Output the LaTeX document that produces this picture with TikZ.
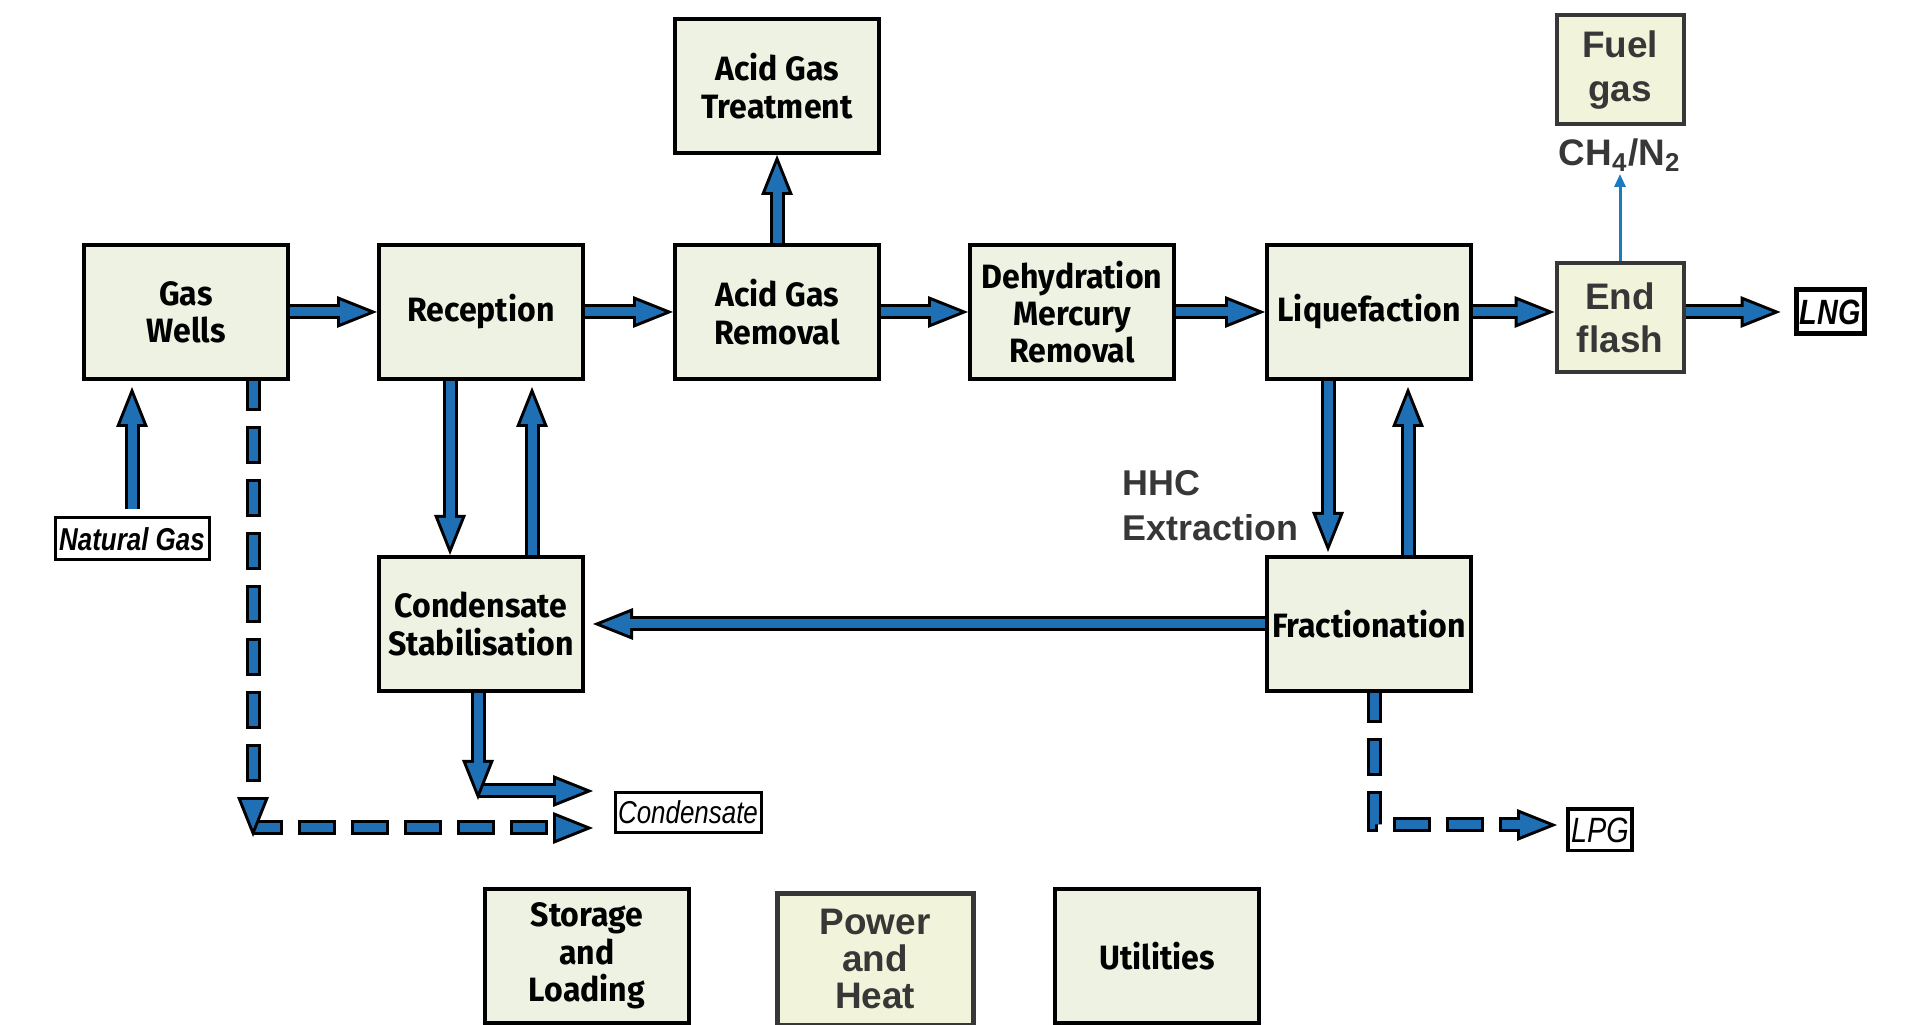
\documentclass[tikz,border=0pt]{standalone}
\usepackage{fontspec}
\setmainfont{Liberation Sans}
\newfontfamily\boxfont[FakeStretch=0.95]{Fira Sans}
\newfontfamily\tagfont[FakeStretch=0.82]{Liberation Sans}
\usetikzlibrary{arrows.meta}
\definecolor{pipeblue}{RGB}{31,111,181}
\definecolor{boxfill}{RGB}{237,242,226}
\definecolor{warmfill}{RGB}{241,243,218}
\definecolor{labelgray}{RGB}{55,55,55}
\definecolor{thinblue}{RGB}{26,124,191}

\begin{document}
\begin{tikzpicture}[
  unit/.style={draw=black, line width=0.04cm, fill=boxfill, minimum width=2.04cm, minimum height=1.34cm,
    inner xsep=0.03cm, align=center, font=\boxfont\bfseries\fontsize{9.6}{10.6}\selectfont},
  warmunit/.style={draw=labelgray, line width=0.04cm, fill=warmfill, minimum width=1.27cm, minimum height=1.09cm,
    align=center, text=labelgray, font=\bfseries\fontsize{10.5}{12.3}\selectfont},
  tag/.style={draw=black, line width=0.03cm, fill=white, inner sep=0.03cm, minimum height=0.40cm,
    font=\tagfont\itshape\fontsize{9}{10}\selectfont},
  pipe/.style={pipeblue, line width=0.09cm, -{Triangle[length=2.9mm, width=2.3mm, line width=0pt]}, shorten >=0.8mm,
    preaction={draw=black, line width=0.15cm, -{Triangle[length=4mm, width=3.2mm, line width=0pt]}, shorten >=0mm}},
  dpipe/.style={pipeblue, line width=0.09cm, line join=miter, dash pattern=on 3.2mm off 2.1mm, dash phase=0.5mm,
    -{Triangle[length=2.9mm, width=2.3mm, line width=0pt]}, shorten >=0.8mm,
    preaction={draw=black, line width=0.15cm, dash pattern=on 3.8mm off 1.5mm, dash phase=0.8mm,
      -{Triangle[length=4mm, width=3.2mm, line width=0pt]}, shorten >=0mm}},
]
  \useasboundingbox (0,0) rectangle (19.27,10.24);

  \node[unit] (gw) at (1.86,7.12) {Gas\\Wells};
  \node[unit] (rec) at (4.81,7.12) {Reception};
  \node[unit] (agr) at (7.77,7.12) {Acid Gas\\Removal};
  \node[unit] (dhy) at (10.72,7.12) {Dehydration\\Mercury\\Removal};
  \node[unit] (liq) at (13.69,7.12) {Liquefaction};
  \node[unit] (agt) at (7.77,9.38) {Acid Gas\\Treatment};
  \node[unit] (cs) at (4.81,4.00) {Condensate\\Stabilisation};
  \node[unit] (fr) at (13.69,4.00) {Fractionation};
  \node[unit] (sl) at (5.87,0.68) {Storage\\and\\Loading};
  \node[unit] (ut) at (11.57,0.68) {Utilities};
  \node[warmunit] (ef) at (16.20,7.06) {End\\flash};
  \node[warmunit] (fuel) at (16.20,9.54) {Fuel\\gas};
  \node[warmunit, minimum width=1.96cm, minimum height=1.32cm, line width=0.05cm,
    font=\bfseries\fontsize{10.5}{10.4}\selectfont] (ph) at (8.75,0.65) {Power\\and\\Heat};

  \node[tag, minimum width=1.54cm, minimum height=0.42cm,
    font=\tagfont\bfseries\itshape\fontsize{9}{10}\selectfont] (ng) at (1.32,4.85) {Natural Gas};
  \node[tag, minimum width=1.46cm] (cond) at (6.88,2.12) {Condensate};
  \node[tag, minimum width=0.60cm, minimum height=0.41cm, line width=0.04cm,
    font=\tagfont\itshape\fontsize{10}{10}\selectfont] (lpg) at (16.00,1.94) {LPG};
  \node[tag, minimum width=0.68cm, minimum height=0.44cm, line width=0.05cm,
    font=\tagfont\bfseries\itshape\fontsize{10}{10}\selectfont] (lng) at (18.30,7.12) {LNG};

  \node[anchor=south, inner sep=0.02cm, text=labelgray, font=\bfseries\fontsize{10.5}{12}\selectfont]
    (ch4) at (16.20,8.50) {CH\textsubscript{4}/N\textsubscript{2}};
  \node[anchor=west, inner sep=0, align=left, text=labelgray, font=\bfseries\fontsize{10.2}{12.8}\selectfont]
    (hhc) at (11.22,5.18) {HHC\\Extraction};

  \coordinate (gwdrop) at (2.53,1.87);
  \coordinate (gwturn) at (2.53,1.96);
  \coordinate (condlow) at (5.93,1.96);
  \coordinate (csdrop) at (4.78,2.24);
  \coordinate (csturn) at (4.78,2.33);
  \coordinate (condhigh) at (5.93,2.33);
  \coordinate (lpgin) at (15.57,1.99);

  \draw[pipe] (gw) -- (rec);
  \draw[pipe] (rec) -- (agr);
  \draw[pipe] (agr) -- (dhy);
  \draw[pipe] (dhy) -- (liq);
  \draw[pipe] (liq.east) -- (liq.east -| ef.west);
  \draw[pipe] (ef.east |- lng.west) -- ([xshift=-0.13cm]lng.west);
  \draw[pipe] (agr.north) -- (agt.south);
  \draw[pipe] ([yshift=0.07cm]ng.north) -- ([yshift=-0.06cm]ng.north |- gw.south);
  \draw[pipe] ([xshift=-0.31cm]rec.south) -- ([xshift=-0.31cm]cs.north);
  \draw[pipe] ([xshift=0.51cm]cs.north) -- ([xshift=0.51cm,yshift=-0.06cm]rec.south);
  \draw[pipe] ([xshift=-0.41cm]liq.south) -- ([xshift=-0.41cm,yshift=0.03cm]fr.north);
  \draw[pipe] ([xshift=0.39cm]fr.north) -- ([xshift=0.39cm,yshift=-0.06cm]liq.south);
  \draw[pipe] (fr) -- ([xshift=0.08cm]cs.east);
  \draw[pipe] (csturn) -- (condhigh);
  \draw[pipe] (cs.south -| csdrop) -- (csdrop);
  \draw[dpipe] (gwturn) -- (condlow);
  \draw[dpipe] (gw.south -| gwdrop) -- (gwdrop);
  \draw[dpipe] ([xshift=0.05cm]fr.south) |- (lpgin);
  \draw[thinblue, line width=0.03cm, -{Triangle[length=1.3mm, width=1.1mm]}] (ef.north) -- (ch4.south);
\end{tikzpicture}
\end{document}
